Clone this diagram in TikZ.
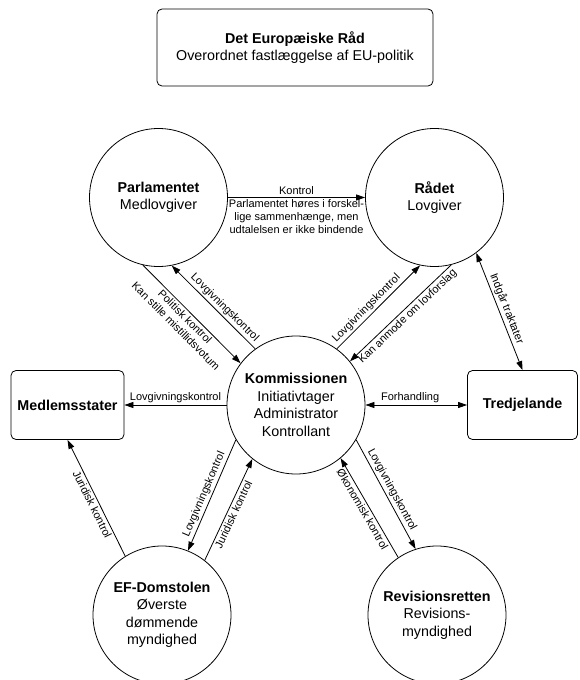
\documentclass[tikz,border=0pt]{standalone}
\usepackage{fontspec}
\setmainfont{Liberation Sans}
\usetikzlibrary{positioning,arrows.meta}
\tikzstyle{eu diagram}=[
    ->,>={Triangle[length=9pt,width=6pt]},line width=0.8pt,
    node distance=150pt and 136.5pt,on grid,
    every node/.style={
        align=center,
        font=\fontsize{14.3}{17.5}\selectfont,
    },
    organ/.style={
        draw,circle,minimum size=138pt,inner sep=0pt,
    },
    kasse/.style={
        draw,rounded corners=5pt,minimum width=113pt,minimum height=69pt,inner sep=0pt,
    },
    etiket/.style={
        font=\fontsize{11}{13}\selectfont,inner sep=2pt,
}]
\newcommand{\organlabel}[2]{\textbf{#1}\\#2}
\newcommand{\kantlabel}[3]{#1\\#2\\#3}

\begin{document}
\begin{tikzpicture}[eu diagram]
        \useasboundingbox (0,0) rectangle (579pt,-680pt);
        \node[kasse, minimum width=276pt, minimum height=77pt] (raad) at (295pt,-47.5pt) {\organlabel{Det Europæiske Råd}{Overordnet fastlæggelse af EU-politik}};
        \node[organ, below left=of raad] (parl) {\organlabel{Parlamentet}{Medlovgiver}};
        \node[organ, right=276pt of parl] (radet) {\organlabel{Rådet}{Lovgiver}};
        \node[organ, below right=207.5pt and 137.5pt of parl] (komm) {\organlabel{Kommissionen}{Initiativtager\\Administrator\\Kontrollant}};
        \node[kasse, left=228.5pt of komm] (medlem) {\textbf{Medlemsstater}};
        \node[kasse, minimum width=110pt, right=226.5pt of komm] (tredje) {\textbf{Tredjelande}};
        \node[organ, below left=210pt and 134pt of komm] (domstol) {\organlabel{EF-Domstolen}{Øverste\\dømmende\\myndighed}};
        \node[organ, below right=210pt and 141pt of komm] (revision) {\organlabel{Revisionsretten}{Revisions-\\myndighed}};

        \path
            (parl) edge node[etiket, above] {Kontrol}
                node[etiket, below] {\kantlabel{Parlamentet høres i forskel-}{lige sammenhænge, men}{udtalelsen er ikke bindende}} (radet)
            (parl.257) edge node[etiket, sloped, below, pos=0.48] {Politisk kontrol\\Kan stille mistillidsvotum} (komm.143)
            (komm.126) edge node[etiket, sloped, above, pos=0.43] {Lovgivningskontrol} (parl.-79)
            (komm.54) edge node[etiket, sloped, above, pos=0.42] {Lovgivningskontrol} (radet.258)
            (radet.-76) edge node[etiket, sloped, below, pos=0.48] {Kan anmode om lovforslag} (komm.39)
            (radet.-53) edge[<->] node[etiket, sloped, above] {Indgår traktater} (tredje.north)
            (komm) edge[<->] node[etiket, above, pos=0.44] {Forhandling} (tredje)
            (komm) edge node[etiket, above] {Lovgivningskontrol} (medlem)
            (domstol.122) edge node[etiket, sloped, below, pos=0.47] {Juridisk kontrol} (medlem.south)
            (komm.210) edge node[etiket, sloped, above, pos=0.52] {Lovgivningskontrol} (domstol.68)
            (domstol.52) edge node[etiket, sloped, below, pos=0.48] {Juridisk kontrol} (komm.231)
            (revision.124) edge node[etiket, sloped, below, pos=0.52] {Økonomisk kontrol} (komm.-50)
            (komm.-30) edge node[etiket, sloped, above, pos=0.49] {Lovgivningskontrol} (revision.108)
        ;
    \end{tikzpicture}
\end{document}
